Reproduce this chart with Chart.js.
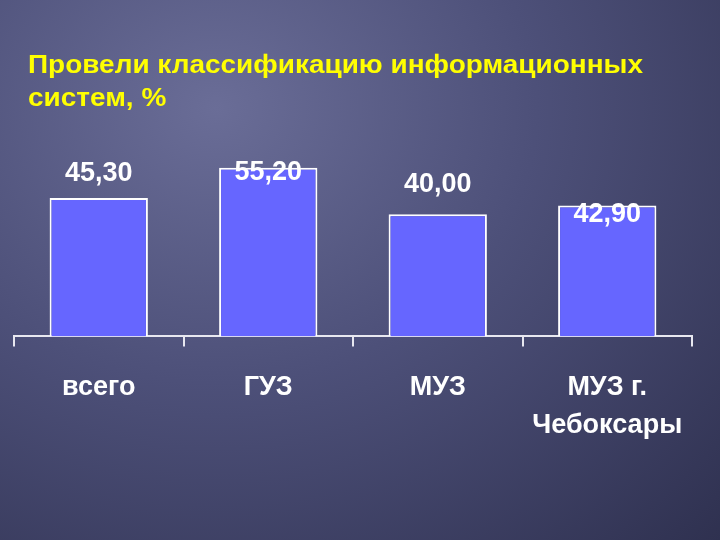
<!DOCTYPE html>
<html><head><meta charset="utf-8">
<script src="https://cdn.jsdelivr.net/npm/chart.js@4/dist/chart.umd.min.js"></script>
<style>
html,body{margin:0;padding:0;}
body{width:720px;height:540px;background:radial-gradient(ellipse at 30% 20%,#6a6d97 0%,#4d5079 45%,#2f3150 100%);}
#c{position:absolute;left:0;top:0;}
</style></head><body>
<canvas id="c" width="720" height="540"></canvas>
<script>
const categories = [["всего"],["ГУЗ"],["МУЗ"],["МУЗ г.","Чебоксары"]];
const values = [45.30, 55.20, 40.00, 42.90];
const valueLabels = ["45,30","55,20","40,00","42,90"];
const titleLines = ["Провели классификацию информационных","систем, %"];

const labelPlugin = {
  id:'lbl',
  afterDatasetsDraw(chart){
    const ctx=chart.ctx, meta=chart.getDatasetMeta(0);
    const off=[-25,5,-30,9];
    ctx.save();
    ctx.fillStyle='#fff';
    ctx.font='bold 27px "Liberation Sans Narrow","Liberation Sans",Arial';
    ctx.textAlign='center';ctx.textBaseline='middle';
    meta.data.forEach((b,i)=>{ctx.fillText(valueLabels[i],b.x,b.y+off[i]);});
    ctx.fillStyle='#ffff00';
    ctx.font='bold 25px "Liberation Sans",Arial';
    ctx.textAlign='left';
    const w=ctx.measureText(titleLines[0]).width;
    titleLines.forEach((t,i)=>{
      ctx.save();ctx.translate(28,66+i*33);ctx.scale(615/w,1);ctx.fillText(t,0,0);ctx.restore();
    });
    ctx.restore();
  }
};
new Chart(document.getElementById('c'),{
  type:'bar',
  data:{labels:categories,datasets:[{data:values,backgroundColor:'#6666ff',borderColor:'#ffffff',borderWidth:2,categoryPercentage:0.58,barPercentage:1}]},
  options:{
    responsive:false,animation:false,
    layout:{padding:{left:14,right:28,top:141,bottom:74}},
    plugins:{legend:{display:false},tooltip:{enabled:false}},
    scales:{
      y:{display:false,min:0,max:64},
      x:{offset:true,
        grid:{display:true,drawOnChartArea:false,offset:true,color:'#e8e8f0',tickLength:10,lineWidth:2},
        border:{display:true,color:'#e8e8f0',width:2},
        ticks:{color:'#fff',padding:22,font:{family:'"Liberation Sans Narrow","Liberation Sans",Arial',size:27,weight:'bold',lineHeight:1.4}}}
    }
  },
  plugins:[labelPlugin]
});
</script></body></html>
